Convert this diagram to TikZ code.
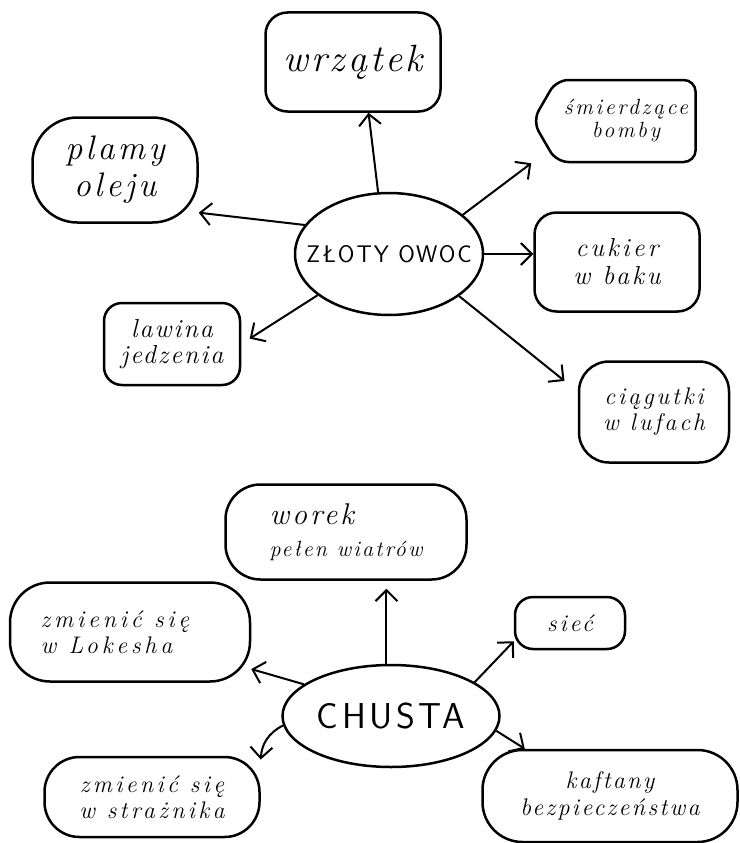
\documentclass[tikz,border=0pt]{standalone}
\usepackage{fontspec}
\setmainfont{Latin Modern Roman}
\setsansfont{Latin Modern Sans}
\usetikzlibrary{shapes}
\usetikzlibrary{arrows.meta}
\tikzstyle{blob}=[rectangle, rounded corners=22pt, draw=black, line width=2.5pt, inner sep=0pt, text centered, align=center]
\tikzstyle{fruit}=[ellipse, draw=black, line width=2.5pt, inner xsep=-25pt, inner ysep=0pt, text centered]
\tikzstyle{tran}=[draw, -{Straight Barb[length=11pt,width=22pt]}, line width=2pt]
\newcommand{\hand}[3]{\fontsize{#1}{#2}\selectfont\itshape\addfontfeatures{LetterSpace=#3}}
\newcommand{\caps}[2]{\fontsize{#1}{#1}\selectfont\sffamily\addfontfeatures{LetterSpace=#2}}

\begin{document}
\begin{tikzpicture}[x=1pt, y=-1pt]
\useasboundingbox (0,0) rectangle (739,843);

% zloty owoc
\node[fruit, minimum width=188pt, minimum height=122pt, font=\caps{24}{8}] (zloty) at (389,254) {ZŁOTY OWOC};

\node[blob, minimum width=175pt, minimum height=99pt, font=\hand{38}{36}{8}] (wrzatek) at (353,62) {wrzątek};

\node[signal, signal to=west, signal pointer angle=120, draw=black, line width=2.5pt, rounded corners=12pt, inner sep=0pt, align=center, minimum width=163pt, minimum height=82pt, font=\hand{22}{23}{12}] (smierdzace) at (626,121)
{śmierdzące\\bomby};

\node[blob, rounded corners=45pt, minimum width=165pt, minimum height=105pt, font=\hand{34}{37}{10}] (plamy) at (115,170)
{plamy\\oleju};

\node[blob, minimum width=165pt, minimum height=99pt, font=\hand{26}{28}{12}] (cukier) at (617,262)
{cukier\\w baku};

\node[blob, rounded corners=18pt, minimum width=136pt, minimum height=82pt, font=\hand{26}{26}{8}] (lawina) at (172,344)
{lawina\\jedzenia};

\node[blob, rounded corners=30pt, minimum width=150pt, minimum height=101pt, font=\hand{24}{26}{12}] (ciagutki) at (654,412)
{ciągutki\\w lufach};

\draw[tran] (zloty.100)       --  (wrzatek.-73);
\draw[tran] (zloty.161)       --  (plamy.-27);
\draw[tran] (zloty.28)        --  (smierdzace.west |- smierdzace.south);
\draw[tran] (zloty.east)      --  (zloty.east -| cukier.west);
\draw[tran, shorten >=10pt] (zloty.210) -- (lawina.east);
\draw[tran, shorten >=17pt] (zloty.-31) -- (ciagutki.165);

% chusta
\node[fruit, minimum width=217pt, minimum height=102pt, font=\caps{36}{10}] (chusta) at (391,716) {CHUSTA};

\node[blob, rounded corners=35pt, minimum width=241pt, minimum height=95pt, align=left, font=\hand{22}{32}{10}] (worek) at (346,532)
{{\fontsize{30}{32}\selectfont worek}\\pełen wiatrów};

\node[blob, rounded corners=40pt, minimum width=240pt, minimum height=99pt, align=left, font=\hand{24}{26}{16}] (lokesha) at (130,632)
{zmienić się\hspace*{30pt}\\w Lokesha};

\node[blob, rounded corners=18pt, minimum width=110pt, minimum height=52pt, font=\hand{24}{25}{12}] (siec) at (570,623)
{sieć};

\node[blob, rounded corners=35pt, minimum width=215pt, minimum height=80pt, font=\hand{24}{26}{14}] (straznika) at (152,797)
{zmienić się\\w strażnika};

\node[blob, rounded corners=40pt, minimum width=255pt, minimum height=92pt, font=\hand{24}{27}{10}] (kaftany) at (610,796)
{kaftany\\bezpieczeństwa};

\draw[tran, shorten >=8pt] (chusta.95)  --  (chusta.95 |- worek.south);
\draw[tran] (chusta.160)      --  (lokesha.-17);
\draw[tran] (chusta.22)       --  (siec.198);
\draw[tran, bend right] (chusta.185) to (straznika.19);
\draw[tran] (chusta.-8)       --  (kaftany.151);

\end{tikzpicture}
\end{document}
